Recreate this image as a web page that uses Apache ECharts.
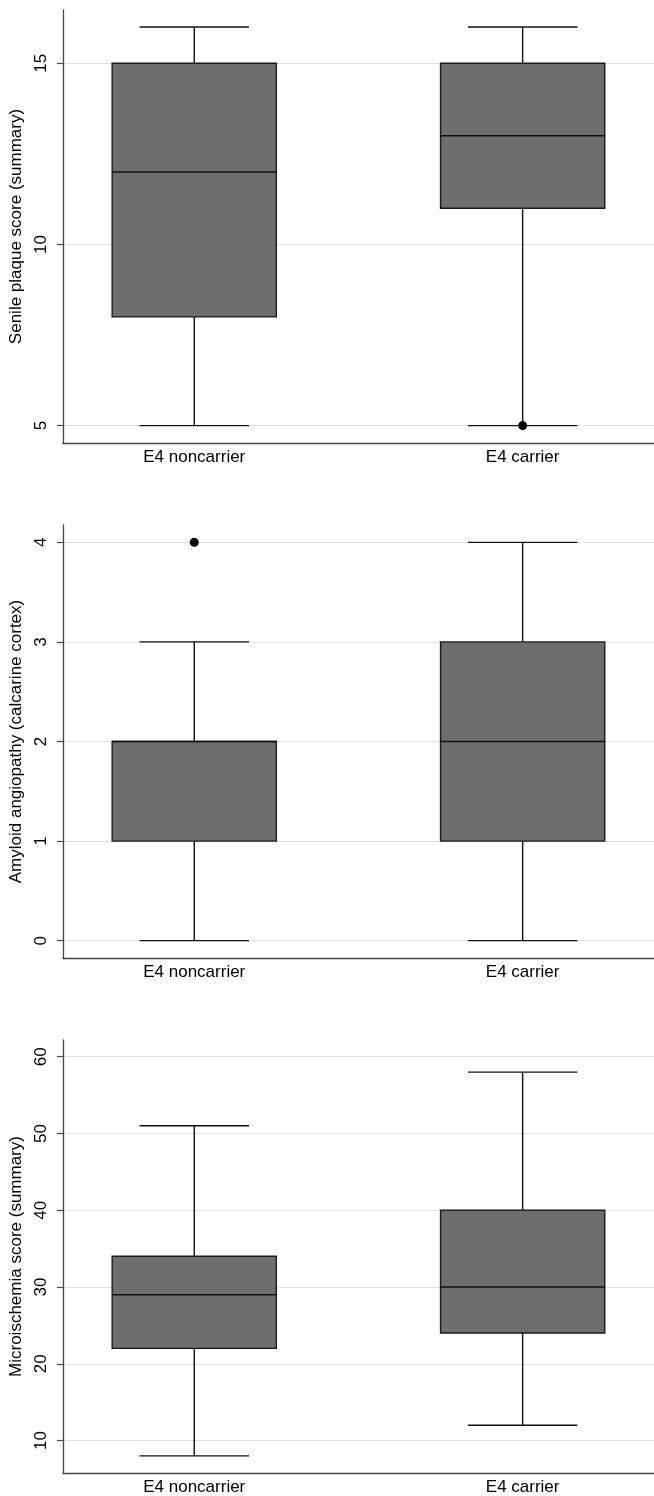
<!DOCTYPE html>
<html>
<head>
<meta charset="utf-8">
<script src="https://cdn.jsdelivr.net/npm/echarts@6/dist/echarts.min.js"></script>
<style>
  html, body { margin: 0; padding: 0; background: #fff; }
  #chart { width: 654px; height: 1496px; }
</style>
</head>
<body>
<div id="chart"></div>
<script>
// ---- data ----
const categories = ['E4 noncarrier', 'E4 carrier'];
const panelTitles = ['Senile plaque score (summary)', 'Amyloid angiopathy (calcarine cortex)', 'Microischemia score (summary)'];

// [min, Q1, median, Q3, max] per category
const senileBox = [[5, 8, 12, 15, 16], [5, 11, 13, 15, 16]];
const senileOutliers = [[2, 5]];          // [category number, value]
const senileTicks = [5, 10, 15];

const amyloidBox = [[0, 1, 2, 2, 3], [0, 1, 2, 3, 4]];
const amyloidOutliers = [[1, 4]];
const amyloidTicks = [0, 1, 2, 3, 4];

const microBox = [[8, 22, 29, 34, 51], [12, 24, 30, 40, 58]];
const microOutliers = [];
const microTicks = [10, 20, 30, 40, 50, 60];

// ---- styling / layout ----
const FONT = '"Liberation Sans", Arial, Helvetica, sans-serif';
const panels = [
  { box: senileBox, out: senileOutliers, ticks: senileTicks, min: 4.52, max: 16.47, top: 10 },
  { box: amyloidBox, out: amyloidOutliers, ticks: amyloidTicks, min: -0.174, max: 4.174, top: 525 },
  { box: microBox, out: microOutliers, ticks: microTicks, min: 5.77, max: 62.18, top: 1040 }
];

const grids = [], xAxes = [], yAxes = [], series = [];

function renderBox(params, api) {
  const x = api.value(0);
  const vMin = api.value(1), q1 = api.value(2), med = api.value(3), q3 = api.value(4), vMax = api.value(5);
  const band = api.size([1, 0])[0];
  const hb = band * 0.25;     // half box width
  const hc = band / 6;        // half cap width
  const pMin = api.coord([x, vMin]), pQ1 = api.coord([x, q1]), pMed = api.coord([x, med]);
  const pQ3 = api.coord([x, q3]), pMax = api.coord([x, vMax]);
  const cx = pMin[0];
  const lineStyle = { stroke: '#111', lineWidth: 1.4, fill: null };
  return {
    type: 'group',
    children: [
      { type: 'line', shape: { x1: cx, y1: pMax[1], x2: cx, y2: pQ3[1] }, style: lineStyle },
      { type: 'line', shape: { x1: cx, y1: pQ1[1], x2: cx, y2: pMin[1] }, style: lineStyle },
      { type: 'line', shape: { x1: cx - hc, y1: pMax[1], x2: cx + hc, y2: pMax[1] }, style: lineStyle },
      { type: 'line', shape: { x1: cx - hc, y1: pMin[1], x2: cx + hc, y2: pMin[1] }, style: lineStyle },
      { type: 'rect', shape: { x: cx - hb, y: pQ3[1], width: hb * 2, height: pQ1[1] - pQ3[1] },
        style: { fill: '#6e6e6e', stroke: '#1a1a1a', lineWidth: 1.4 } },
      { type: 'line', shape: { x1: cx - hb, y1: pMed[1], x2: cx + hb, y2: pMed[1] }, style: lineStyle }
    ]
  };
}

panels.forEach((p, i) => {
  grids.push({ left: 58, right: 0, top: p.top, height: 433, containLabel: false });
  xAxes.push({
    type: 'value', gridIndex: i, min: 0.6, max: 2.4,
    axisLine: { show: true, onZero: false, lineStyle: { color: '#444', width: 1.3 } },
    axisTick: { show: false },
    splitLine: { show: false },
    axisLabel: {
      customValues: [1, 2],
      formatter: v => categories[Math.round(v) - 1] || '',
      color: '#000', fontFamily: FONT, fontSize: 17, margin: 6
    }
  });
  yAxes.push({
    type: 'value', gridIndex: i, min: p.min, max: p.max,
    name: panelTitles[i], nameLocation: 'middle', nameGap: 31,
    nameTextStyle: { color: '#000', fontFamily: FONT, fontSize: 17 },
    axisLine: { show: true, onZero: false, lineStyle: { color: '#444', width: 1.3 } },
    axisTick: { show: true, length: 6, customValues: p.ticks, lineStyle: { color: '#444', width: 1.2 } },
    splitLine: { show: true, lineStyle: { color: '#e0e0e0', width: 1.2 } },
    axisLabel: {
      customValues: p.ticks, rotate: 90,
      color: '#000', fontFamily: FONT, fontSize: 17, margin: 13
    }
  });
  series.push({
    type: 'custom', xAxisIndex: i, yAxisIndex: i,
    renderItem: renderBox,
    encode: { x: 0, y: [1, 2, 3, 4, 5] },
    data: p.box.map((b, k) => [k + 1].concat(b)),
    z: 2
  });
  series.push({
    type: 'scatter', xAxisIndex: i, yAxisIndex: i,
    data: p.out, symbolSize: 9, itemStyle: { color: '#000', opacity: 1 }, z: 5
  });
});

const chart = echarts.init(document.getElementById('chart'), null, { renderer: 'canvas' });
chart.setOption({
  animation: false,
  backgroundColor: '#fff',
  grid: grids, xAxis: xAxes, yAxis: yAxes, series: series
});
</script>
</body>
</html>
